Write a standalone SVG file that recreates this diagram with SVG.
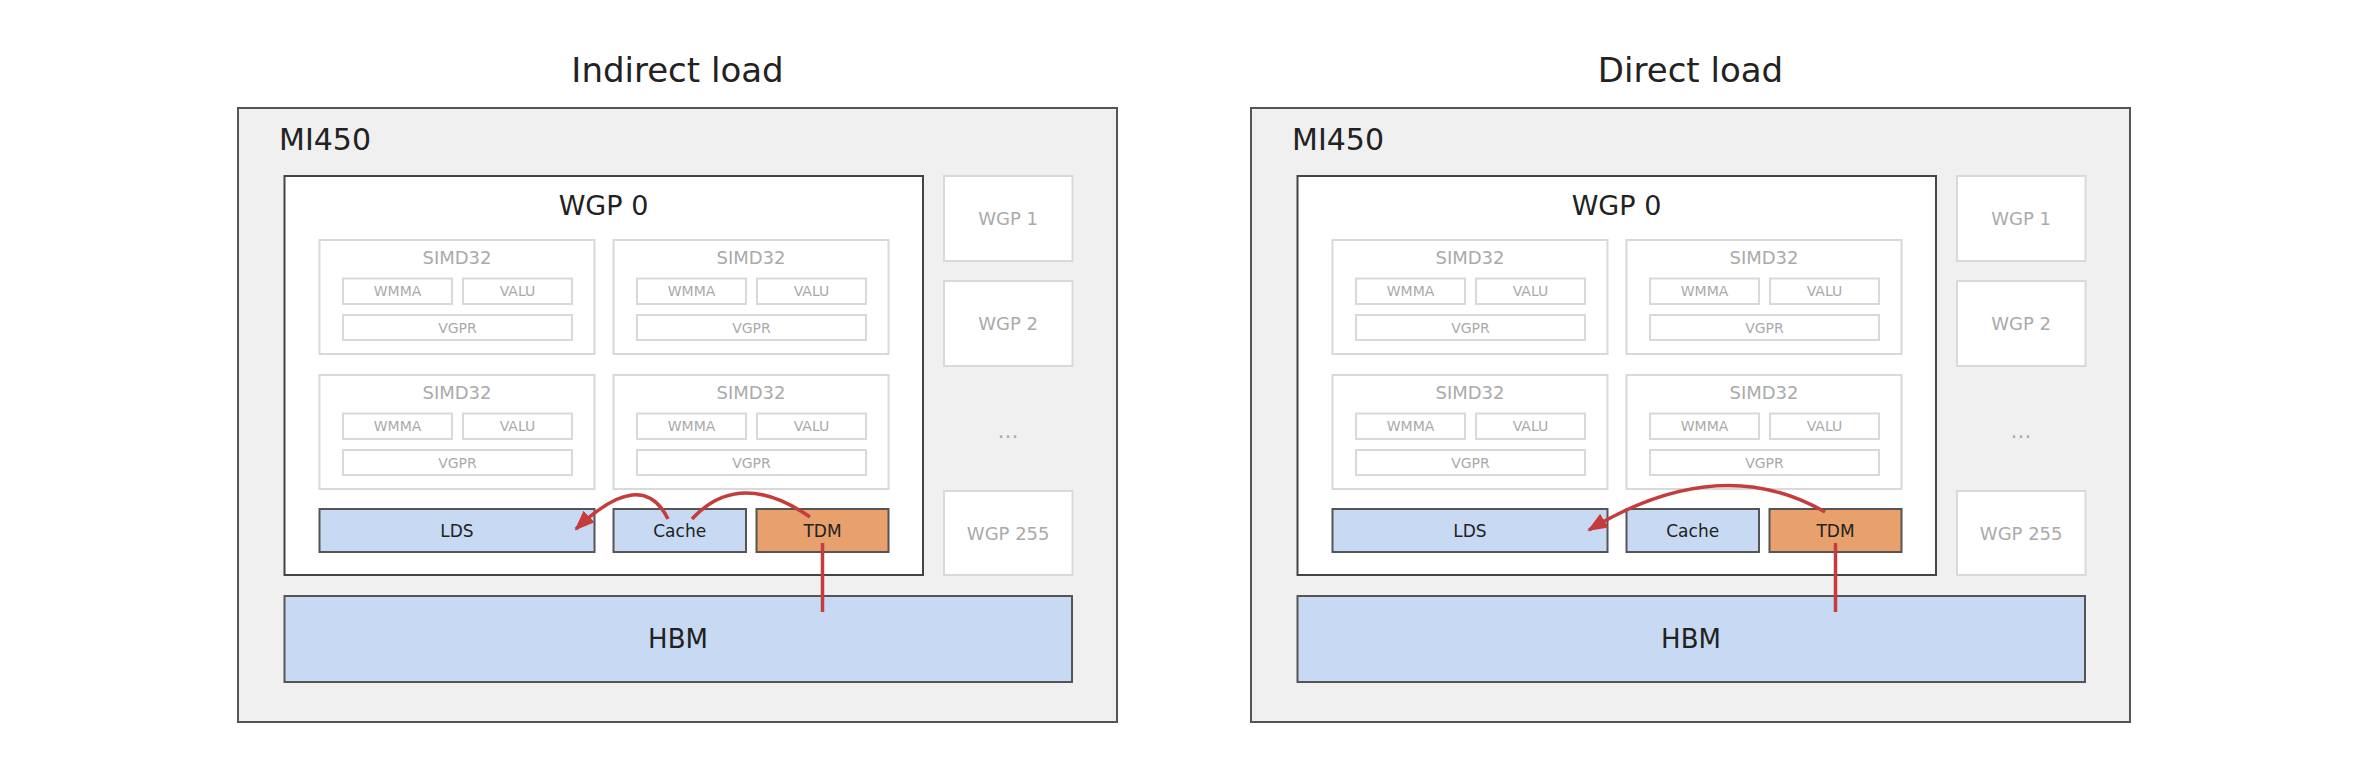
<svg xmlns="http://www.w3.org/2000/svg" width="2370" height="765" viewBox="0 0 2370 765">
<style>
text{font-family:"DejaVu Sans","Liberation Sans",sans-serif;text-anchor:middle;dominant-baseline:central}
.title{font-size:34px;fill:#222}
.chip{fill:#f0f0f0;stroke:#555;stroke-width:2}
.chipl{font-size:30px;fill:#222;text-anchor:start}
.wgp0{fill:#fff;stroke:#444;stroke-width:2}
.wgp0l{font-size:27px;fill:#222}
.lite{fill:#fff;stroke:#d9d9d9;stroke-width:2}
.simdl{font-size:18px;fill:#aaa}
.subl{font-size:14px;fill:#aaa}
.wgpl{font-size:18px;fill:#aaa}
.blue{fill:#c8d9f3;stroke:#555;stroke-width:2}
.tdm{fill:#e8a06c;stroke:#555;stroke-width:2}
.unitl{font-size:17px;fill:#222}
.hbml{font-size:26px;fill:#222}
.arrow{fill:none;stroke:#c43c3c;stroke-width:3.5}
</style>
<defs>
<marker id="head" markerUnits="userSpaceOnUse" viewBox="0 0 20 16" markerWidth="20" markerHeight="16" refX="18" refY="8" orient="auto">
<path d="M0,0 L20,8 L0,16 z" fill="#c43c3c"/>
</marker>
<g id="simd">
<rect class="lite" x="0" y="0" width="275" height="114"/>
<text class="simdl" x="137.5" y="17">SIMD32</text>
<rect class="lite" x="23.5" y="38.5" width="109" height="25.5"/>
<text class="subl" x="78" y="51.2">WMMA</text>
<rect class="lite" x="143.5" y="38.5" width="109" height="25.5"/>
<text class="subl" x="198" y="51.2">VALU</text>
<rect class="lite" x="23.5" y="75" width="229" height="25"/>
<text class="subl" x="138" y="87.5">VGPR</text>
</g>
</defs>

<!-- Left panel: Indirect load -->
<g id="left-panel">
<text class="title" x="677.5" y="70">Indirect load</text>
<g id="L-mi450">
<rect class="chip" x="238" y="108" width="879" height="614"/>
<text class="chipl" x="279" y="139">MI450</text>
</g>
<g id="L-wgp0">
<rect class="wgp0" x="284.5" y="176" width="638.5" height="399"/>
<text class="wgp0l" x="603.5" y="205">WGP 0</text>
</g>
<g id="L-simd-0"><use href="#simd" x="319.5" y="240"/></g>
<g id="L-simd-1"><use href="#simd" x="613.5" y="240"/></g>
<g id="L-simd-2"><use href="#simd" x="319.5" y="375"/></g>
<g id="L-simd-3"><use href="#simd" x="613.5" y="375"/></g>
<g id="L-lds">
<rect class="blue" x="319.5" y="509" width="275" height="43"/>
<text class="unitl" x="457" y="530.5">LDS</text>
</g>
<g id="L-cache">
<rect class="blue" x="613.5" y="509" width="132.5" height="43"/>
<text class="unitl" x="679.7" y="530.5">Cache</text>
</g>
<g id="L-tdm">
<rect class="tdm" x="756.5" y="509" width="132" height="43"/>
<text class="unitl" x="822.5" y="530.5">TDM</text>
</g>
<g id="L-wgp1">
<rect class="lite" x="944" y="176" width="128.5" height="85"/>
<text class="wgpl" x="1008.2" y="218.5">WGP 1</text>
</g>
<g id="L-wgp2">
<rect class="lite" x="944" y="281" width="128.5" height="85"/>
<text class="wgpl" x="1008.2" y="323.5">WGP 2</text>
</g>
<text class="wgpl" x="1008" y="430" style="font-size:22px">...</text>
<g id="L-wgp255">
<rect class="lite" x="944" y="491" width="128.5" height="84"/>
<text class="wgpl" x="1008.2" y="533">WGP 255</text>
</g>
<g id="L-hbm">
<rect class="blue" x="284.5" y="596" width="787.5" height="86"/>
<text class="hbml" x="678" y="639">HBM</text>
</g>
</g>

<!-- Right panel: Direct load -->
<g id="right-panel" transform="translate(1013,0)">
<text class="title" x="677.5" y="70">Direct load</text>
<g id="R-mi450">
<rect class="chip" x="238" y="108" width="879" height="614"/>
<text class="chipl" x="279" y="139">MI450</text>
</g>
<g id="R-wgp0">
<rect class="wgp0" x="284.5" y="176" width="638.5" height="399"/>
<text class="wgp0l" x="603.5" y="205">WGP 0</text>
</g>
<g id="R-simd-0"><use href="#simd" x="319.5" y="240"/></g>
<g id="R-simd-1"><use href="#simd" x="613.5" y="240"/></g>
<g id="R-simd-2"><use href="#simd" x="319.5" y="375"/></g>
<g id="R-simd-3"><use href="#simd" x="613.5" y="375"/></g>
<g id="R-lds">
<rect class="blue" x="319.5" y="509" width="275" height="43"/>
<text class="unitl" x="457" y="530.5">LDS</text>
</g>
<g id="R-cache">
<rect class="blue" x="613.5" y="509" width="132.5" height="43"/>
<text class="unitl" x="679.7" y="530.5">Cache</text>
</g>
<g id="R-tdm">
<rect class="tdm" x="756.5" y="509" width="132" height="43"/>
<text class="unitl" x="822.5" y="530.5">TDM</text>
</g>
<g id="R-wgp1">
<rect class="lite" x="944" y="176" width="128.5" height="85"/>
<text class="wgpl" x="1008.2" y="218.5">WGP 1</text>
</g>
<g id="R-wgp2">
<rect class="lite" x="944" y="281" width="128.5" height="85"/>
<text class="wgpl" x="1008.2" y="323.5">WGP 2</text>
</g>
<text class="wgpl" x="1008" y="430" style="font-size:22px">...</text>
<g id="R-wgp255">
<rect class="lite" x="944" y="491" width="128.5" height="84"/>
<text class="wgpl" x="1008.2" y="533">WGP 255</text>
</g>
<g id="R-hbm">
<rect class="blue" x="284.5" y="596" width="787.5" height="86"/>
<text class="hbml" x="678" y="639">HBM</text>
</g>
</g>

<!-- Connectors -->
<g id="connectors">
<line class="arrow" x1="822.5" y1="543" x2="822.5" y2="612"/>
<path class="arrow" d="M810,517 Q739,468 692,519"/>
<path class="arrow" d="M668,519 Q642,466 576,529" marker-end="url(#head)"/>
<line class="arrow" x1="1835.5" y1="543" x2="1835.5" y2="612"/>
<path class="arrow" d="M1825,512 Q1719,451 1589,530" marker-end="url(#head)"/>
</g>
</svg>
